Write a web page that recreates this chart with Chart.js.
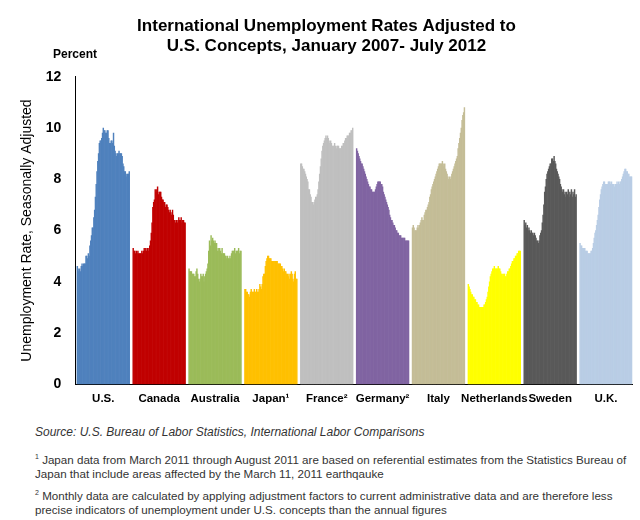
<!DOCTYPE html>
<html><head><meta charset="utf-8">
<script src="https://cdn.jsdelivr.net/npm/chart.js@4.4.0/dist/chart.umd.min.js"></script>
<style>
body{margin:0;background:#fff;font-family:Arial,"Liberation Sans",sans-serif;}
#wrap{position:relative;width:640px;height:520px;}
#c{position:absolute;left:0;top:0;}
.pct{position:absolute;left:53px;top:47px;font-weight:bold;font-size:12px;}
.src{position:absolute;left:35px;top:425px;font-style:italic;font-size:12px;color:#333;}
.fn{position:absolute;left:35px;font-size:11.6px;color:#333;width:592px;line-height:14px;}
sup{font-size:7px;}
</style></head><body>
<div id="wrap">
<canvas id="c" width="640" height="414"></canvas>
<div class="pct">Percent</div>
<div class="src">Source: U.S. Bureau of Labor Statistics, International Labor Comparisons</div>
<div class="fn" style="top:450px"><sup>1</sup> Japan data from March 2011 through August 2011 are based on referential estimates from the Statistics Bureau of Japan that include areas affected by the March 11, 2011 earthqauke</div>
<div class="fn" style="top:486px"><sup>2</sup> Monthly data are calculated by applying adjustment factors to current administrative data and are therefore less precise indicators of unemployment under U.S. concepts than the annual figures</div>
</div>
<script>
const countries=["U.S.","Canada","Australia","Japan\u00b9","France\u00b2","Germany\u00b2","Italy","Netherlands","Sweden","U.K."];
const colors=["#4F81BD","#C00000","#9BBB59","#FFC000","#BFBFBF","#8064A2","#C4BD97","#FFFF00","#595959","#B9CDE5"];
const us=[4.6,4.5,4.4,4.5,4.4,4.6,4.7,4.6,4.7,4.7,4.7,5.0, 5.0,4.9,5.1,5.0,5.4,5.6,5.8,6.1,6.1,6.5,6.8,7.3, 7.8,8.3,8.7,9.0,9.4,9.5,9.5,9.6,9.8,10.0,9.9,9.9, 9.8,9.8,9.9,9.9,9.6,9.4,9.4,9.5,9.5,9.4,9.8,9.3, 9.1,9.0,8.9,9.0,9.0,9.1,9.0,9.0,9.0,8.9,8.6,8.5, 8.3,8.3,8.2,8.1,8.2,8.2,8.3];
const canada=[5.3,5.2,5.2,5.1,5.2,5.1,5.2,5.1,5.1,5.1,5.1,5.2, 5.1,5.2,5.3,5.2,5.3,5.2,5.3,5.2,5.3,5.4,5.6,5.9, 6.3,6.9,7.1,7.2,7.6,7.5,7.6,7.7,7.4,7.5,7.5,7.5, 7.3,7.2,7.2,7.1,7.1,6.9,7.0,7.0,6.9,6.8,6.7,6.8, 6.7,6.6,6.8,6.6,6.4,6.4,6.3,6.4,6.3,6.4,6.5,6.4, 6.4,6.5,6.3,6.4,6.4,6.3,6.3];
const australia=[4.5,4.4,4.4,4.4,4.3,4.3,4.3,4.2,4.2,4.4,4.5,4.3, 4.1,4.0,4.1,4.3,4.2,4.2,4.3,4.0,4.2,4.3,4.4,4.5, 4.7,5.2,5.6,5.4,5.8,5.6,5.7,5.6,5.5,5.6,5.5,5.5, 5.2,5.3,5.2,5.3,5.2,5.1,5.3,5.1,5.1,5.1,5.0,5.0, 4.9,5.0,4.9,4.9,5.0,4.9,5.1,5.2,5.2,5.2,5.3,5.1, 5.2,5.2,5.2,5.3,5.1,5.2,5.2];
const japan=[3.7,3.7,3.6,3.6,3.5,3.5,3.4,3.6,3.7,3.6,3.6,3.6, 3.7,3.6,3.6,3.7,3.6,3.6,3.7,3.9,3.8,3.7,3.9,4.2, 4.3,4.3,4.6,4.8,4.9,5.0,5.0,4.9,4.9,4.9,4.8,4.8, 4.8,4.8,4.8,4.8,4.8,4.8,4.7,4.7,4.7,4.7,4.6,4.6, 4.5,4.4,4.5,4.4,4.4,4.3,4.3,4.2,4.3,4.1,4.3,4.4, 4.3,4.1,4.0,4.3,4.4,4.1,4.1];
const france=[8.6,8.6,8.5,8.4,8.4,8.3,8.2,8.1,8.0,7.9,7.6,7.6, 7.4,7.3,7.1,7.1,7.0,7.1,7.2,7.3,7.3,7.4,7.6,7.9, 8.2,8.5,8.8,9.1,9.3,9.4,9.5,9.6,9.7,9.6,9.7,9.6, 9.5,9.4,9.5,9.4,9.3,9.3,9.3,9.4,9.3,9.2,9.3,9.3, 9.3,9.2,9.2,9.2,9.3,9.3,9.4,9.4,9.5,9.6,9.6,9.7, 9.7,9.7,9.8,9.8,9.9,9.9,10.0];
const germany=[9.2,9.1,9.0,8.9,8.8,8.7,8.6,8.6,8.5,8.4,8.3,8.2, 8.1,8.0,7.9,7.8,7.7,7.7,7.6,7.6,7.5,7.5,7.5,7.5, 7.6,7.7,7.8,7.9,7.9,7.9,7.9,7.8,7.8,7.7,7.5,7.4, 7.3,7.2,7.1,7.0,6.9,6.8,6.6,6.5,6.4,6.4,6.3,6.2, 6.2,6.1,6.0,6.0,5.9,5.9,5.8,5.8,5.8,5.7,5.7,5.7, 5.7,5.7,5.6,5.6,5.6,5.6,5.6];
const italy=[6.1,6.2,6.1,6.0,6.0,6.0,6.1,6.2,6.1,6.2,6.3,6.4, 6.5,6.4,6.4,6.6,6.7,6.8,6.8,6.9,7.0,7.1,7.3,7.4, 7.6,7.7,7.8,7.9,8.0,8.1,8.2,8.3,8.4,8.5,8.6,8.6, 8.6,8.6,8.7,8.6,8.5,8.6,8.4,8.3,8.2,8.1,8.0,8.1, 8.0,8.1,8.2,8.3,8.4,8.5,8.6,8.7,8.8,8.9,9.2,9.4, 9.6,9.8,10.0,10.3,10.5,10.6,10.8];
const netherlands=[3.9,3.8,3.7,3.6,3.5,3.5,3.4,3.4,3.3,3.3,3.2,3.2, 3.1,3.1,3.0,3.0,3.0,3.0,3.0,3.0,3.1,3.1,3.2,3.3, 3.4,3.6,3.8,4.0,4.2,4.3,4.4,4.5,4.5,4.6,4.5,4.5, 4.5,4.5,4.6,4.5,4.5,4.4,4.3,4.3,4.2,4.3,4.3,4.2, 4.2,4.3,4.4,4.4,4.5,4.5,4.6,4.7,4.8,4.8,4.9,4.9, 5.0,5.0,5.1,5.1,5.2,5.2,5.2];
const sweden=[6.4,6.2,6.3,6.1,6.2,6.0,6.1,6.0,5.9,6.0,5.9,5.9, 5.8,5.9,5.8,5.7,5.6,5.6,5.5,5.6,5.8,5.9,6.0,6.3, 6.6,7.0,7.5,7.7,8.0,8.2,8.3,8.4,8.5,8.6,8.6,8.8, 8.8,8.7,8.9,8.7,8.6,8.4,8.3,8.2,8.1,8.0,7.8,7.7, 7.6,7.5,7.6,7.4,7.5,7.3,7.5,7.4,7.6,7.3,7.5,7.4, 7.6,7.3,7.5,7.4,7.6,7.3,7.4];
const uk=[5.5,5.4,5.4,5.3,5.3,5.3,5.3,5.2,5.2,5.2,5.1,5.1, 5.1,5.1,5.2,5.2,5.3,5.5,5.7,5.9,6.0,6.2,6.4,6.6, 6.9,7.2,7.4,7.6,7.7,7.8,7.9,7.9,7.8,7.8,7.8,7.8, 7.9,7.9,7.9,7.8,7.9,7.8,7.8,7.8,7.7,7.8,7.8,7.9, 7.8,7.9,7.8,7.9,7.9,8.0,8.1,8.2,8.3,8.4,8.4,8.3, 8.3,8.2,8.2,8.1,8.1,8.1,8.1];
const series=[us,canada,australia,japan,france,germany,italy,netherlands,sweden,uk];
const yTicks=[0,2,4,6,8,10,12];

const GAP=4, LEAD=2;
const labels=[], data=[], bg=[], tickMap={};
for(let i=0;i<LEAD;i++){labels.push('');data.push(null);bg.push('#fff');}
series.forEach((s,gi)=>{
  s.forEach((v,j)=>{ if(j===33) tickMap[labels.length]=countries[gi]; labels.push(''); data.push(v); bg.push(colors[gi]); });
  if(gi<series.length-1) for(let i=0;i<GAP;i++){labels.push('');data.push(null);bg.push('#fff');}
});
new Chart(document.getElementById('c'),{
  type:'bar',
  data:{labels,datasets:[{data,backgroundColor:bg,borderColor:bg,borderWidth:0,barPercentage:1,categoryPercentage:1}]},
  options:{responsive:false,animation:false,
    layout:{padding:{left:15,right:2,top:0,bottom:0}},
    plugins:{legend:{display:false},tooltip:{enabled:false},
      title:{display:true,text:["International Unemployment Rates Adjusted to","U.S. Concepts, January 2007- July 2012"],
        font:{family:"Arial, 'Liberation Sans'",size:17,weight:'bold'},color:'#000',padding:{top:16,bottom:20},lineHeight:1.15}},
    scales:{
      x:{grid:{display:false,drawTicks:false},border:{color:'#000'},
        ticks:{autoSkip:false,maxRotation:0,minRotation:0,padding:8,color:'#000',font:{family:"Arial, 'Liberation Sans'",size:11.5,weight:'bold'},
          callback:(v,i)=>tickMap[i]||''}},
      y:{min:0,max:12,grid:{display:false},border:{color:'#000'},
        afterBuildTicks:a=>{a.ticks=yTicks.map(v=>({value:v}));},
        ticks:{color:'#000',padding:6,font:{family:"Arial, 'Liberation Sans'",size:14,weight:'bold'}},
        title:{display:true,text:'Unemployment Rate, Seasonally Adjusted',color:'#000',font:{family:"Arial, 'Liberation Sans'",size:14}}}
    }}
});
</script></body></html>
